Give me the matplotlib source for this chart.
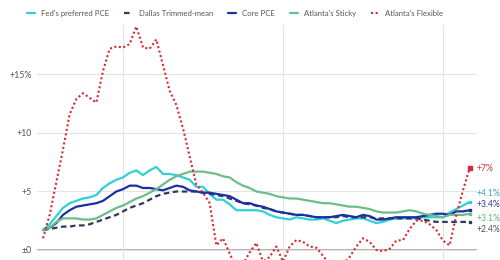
import matplotlib.pyplot as plt
import numpy as np

# monthly readings, month 0 .. 64
months = np.arange(65)

pce = [1.7, 2.2, 2.9, 3.6, 4.0, 4.2, 4.4, 4.5, 4.7, 5.3, 5.7, 6.0, 6.2, 6.6, 6.8, 6.4,
       6.8, 7.1, 6.5, 6.5, 6.4, 6.2, 6.0, 5.4, 5.4, 4.8, 4.3, 4.3, 3.9, 3.4, 3.4, 3.4,
       3.4, 3.3, 3.0, 2.8, 2.7, 2.6, 2.8, 2.7, 2.6, 2.6, 2.7, 2.5, 2.3, 2.5, 2.6, 2.7,
       2.7, 2.5, 2.3, 2.4, 2.6, 2.7, 2.7, 2.7, 2.7, 2.8, 2.8, 2.8, 2.8, 3.2, 3.5, 3.8, 4.1]

trimmed = [1.7, 1.8, 1.9, 2.0, 2.0, 2.1, 2.1, 2.2, 2.4, 2.6, 2.8, 3.0, 3.3, 3.6, 3.8, 4.0,
           4.3, 4.6, 4.8, 4.9, 5.0, 5.0, 5.0, 5.0, 4.9, 4.8, 4.7, 4.6, 4.4, 4.2, 4.0, 3.9,
           3.8, 3.6, 3.5, 3.3, 3.2, 3.1, 3.0, 3.0, 2.9, 2.8, 2.8, 2.8, 2.8, 2.9, 2.8, 2.8,
           2.8, 2.8, 2.7, 2.7, 2.7, 2.7, 2.7, 2.7, 2.7, 2.6, 2.5, 2.4, 2.4, 2.4, 2.4, 2.4, 2.4]

core = [1.7, 1.9, 2.3, 3.0, 3.4, 3.7, 3.8, 3.9, 4.0, 4.2, 4.6, 5.0, 5.2, 5.5, 5.5, 5.3,
        5.3, 5.2, 5.1, 5.3, 5.5, 5.4, 5.1, 5.0, 4.9, 4.9, 4.8, 4.7, 4.6, 4.3, 4.0, 4.0,
        3.8, 3.7, 3.5, 3.3, 3.2, 3.1, 3.0, 3.0, 2.9, 2.8, 2.8, 2.8, 2.9, 3.0, 2.9, 2.8,
        3.0, 2.9, 2.6, 2.6, 2.7, 2.8, 2.8, 2.8, 2.8, 2.9, 3.0, 3.1, 3.1, 3.0, 3.3, 3.3, 3.4]

sticky = [1.7, 1.9, 2.4, 2.7, 2.7, 2.7, 2.6, 2.6, 2.7, 3.0, 3.3, 3.6, 3.8, 4.1, 4.4, 4.6,
          4.9, 5.2, 5.6, 6.0, 6.3, 6.5, 6.7, 6.7, 6.7, 6.6, 6.5, 6.3, 6.2, 5.8, 5.5, 5.3,
          5.0, 4.9, 4.8, 4.6, 4.5, 4.4, 4.4, 4.3, 4.2, 4.1, 4.0, 4.0, 3.9, 3.8, 3.7, 3.7,
          3.6, 3.5, 3.3, 3.2, 3.2, 3.2, 3.3, 3.4, 3.3, 3.1, 3.0, 2.9, 2.8, 3.0, 3.0, 3.0, 3.1]

flexible = [1.0, 3.0, 5.8, 8.6, 11.6, 12.9, 13.4, 13.0, 12.6, 15.3, 17.2, 17.4, 17.3, 17.6,
            19.1, 17.3, 17.2, 18.0, 15.8, 13.6, 12.4, 10.4, 8.0, 5.6, 4.9, 4.0, 0.4, 1.0,
            -0.3, -1.5, -1.2, -0.2, 0.6, -1.0, -0.6, 0.3, -1.0, 0.3, 0.85, 0.7, 0.3, 0.2,
            -0.5, -1.2, -1.5, -1.2, -0.6, 0.3, 1.0, 0.7, 0.0, -0.1, 0.1, 0.8, 0.85, 1.8,
            2.5, 2.5, 2.2, 1.7, 0.8, 0.4, 3.0, 5.1, 7.0]

names = ["Fed's preferred PCE", "Dallas Trimmed-mean", "Core PCE", "Atlanta's Sticky", "Atlanta's Flexible"]
end_labels = ["+4.1%", "+2.4%", "+3.4%", "+3.1%", "+7%"]

plt.rcParams['font.family'] = ['Lato', 'DejaVu Sans']

fig = plt.figure(figsize=(5, 2.6), dpi=100)
ax = fig.add_axes([37 / 500, 0, 440 / 500, 1 - 25 / 260])

series = [pce, trimmed, core, sticky, flexible]
colors = ["#2fd0d6", "#2f3b5c", "#1b2fa3", "#6dbd8a", "#d42a32"]
styles = ["-", (0, (2.5, 1.6)), "-", "-", (0, (1, 1.2))]
label_colors = ["#3aa7bb", "#4a5068", "#2a3d9a", "#62b07e", "#d42a32"]
label_y = [4.85, 1.75, 3.85, 2.7, 7.0]
order = [3, 1, 0, 2, 4]

for i in order:
    ax.plot(months, series[i], color=colors[i], ls=styles[i], lw=1.6 if i != 4 else 1.5,
            label=names[i], zorder=3 + i, solid_capstyle='round')
    ax.plot(months[-1:], series[i][-1:], marker='s', ms=2 if i != 4 else 3.5,
            color=colors[i], zorder=10)
    ax.text(months[-1] + 1.0, label_y[i], end_labels[i], color=label_colors[i],
            fontsize=6.2, va='center', ha='left', clip_on=False)

ax.set_xlim(-0.9, 65.1)
ax.set_ylim(-0.855, 19.23)
ax.set_xticks([12, 36, 60])
ax.set_yticks([0, 5, 10, 15])
ax.set_yticklabels(["\u00b10", "+5", "+10", "+15%"])
ax.grid(True, color="#e4e4e4", lw=0.8, zorder=0)
ax.axhline(0, color="#a8a8a8", lw=1.3, zorder=1)
ax.tick_params(length=0, labelsize=6.3, labelcolor="#555555", pad=4)
ax.tick_params(axis='x', labelbottom=False)
for s in ax.spines.values():
    s.set_visible(False)

handles, labels = ax.get_legend_handles_labels()
lookup = dict(zip(labels, handles))
fig.legend([lookup[n] for n in names], names, loc='upper left', ncol=5,
           bbox_to_anchor=(0.04, 0.99), frameon=False, fontsize=5.6,
           handlelength=1.05, handletextpad=0.8, columnspacing=1.9,
           labelcolor="#555555")

fig.savefig("out.png", dpi=100)
